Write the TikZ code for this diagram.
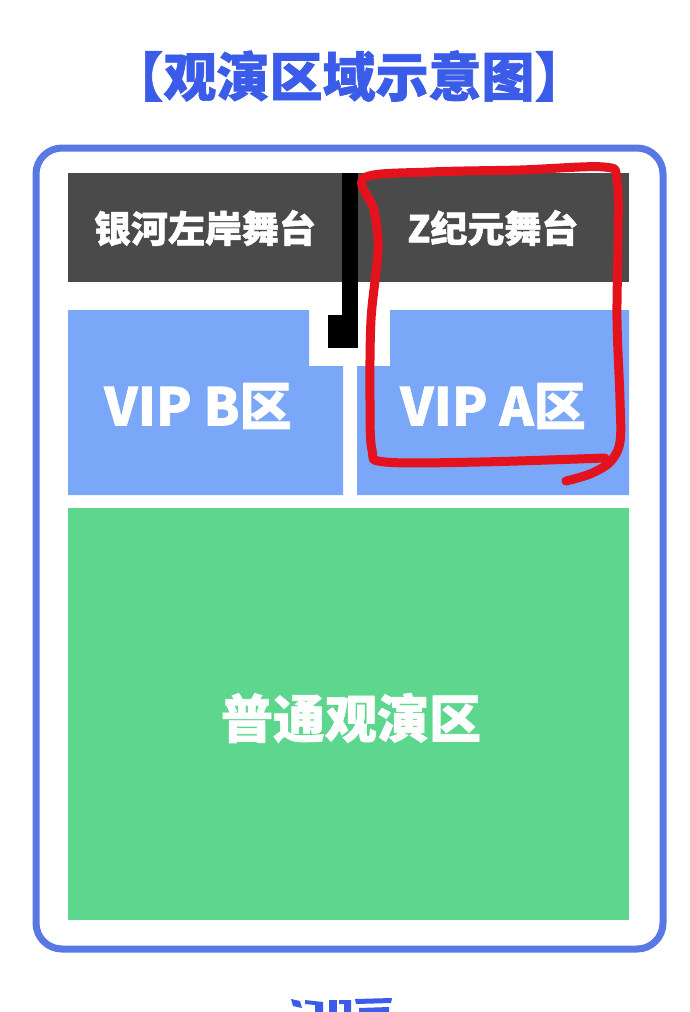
\documentclass[tikz,border=0pt]{standalone}
\usepackage{fontspec}
\usepackage{tikz}
\newfontfamily\cjk{Noto Sans CJK SC}[BoldFeatures={FakeBold=1.2}]
\usetikzlibrary{positioning}
\definecolor{frame-blue}{RGB}{88,120,230}
\definecolor{title-blue}{RGB}{58,92,232}
\definecolor{stage-gray}{RGB}{74,74,74}
\definecolor{vip-blue}{RGB}{122,167,247}
\definecolor{crowd-green}{RGB}{93,214,142}
\definecolor{mark-red}{RGB}{228,18,28}

\begin{document}
\begin{tikzpicture}[
    x=1pt, y=-1pt,
    title/.style={text=title-blue, font=\cjk\bfseries\fontsize{53}{53}\selectfont, inner sep=0pt},
    stagelabel/.style={text=white, font=\cjk\bfseries\fontsize{37}{37}\selectfont, inner sep=0pt},
    zonelabel/.style={text=white, font=\cjk\bfseries\fontsize{52}{52}\selectfont, inner sep=0pt},
    frame/.style={draw=frame-blue, line width=7pt, rounded corners=26pt},
    redmark/.style={draw=mark-red, line width=9pt, line cap=round, line join=round}
]
\useasboundingbox (0,0) rectangle (690,1012);
\fill[white] (0,0) rectangle (690,1012);

\node[title] (heading) at (349,76) {【观演区域示意图】};

\draw[frame] (36,148) rectangle (663,949);

% stages
\fill[stage-gray] (68,173) rectangle (629,282);
\node[stagelabel] (galaxy) at (205,228) {银河左岸舞台};
\node[stagelabel] (zera) at (493,228) {Z纪元舞台};

% vip zones
\fill[vip-blue] (68,310) -- (309,310) -- (309,366) -- (343,366) -- (343,495) -- (68,495) -- cycle;
\fill[vip-blue] (390,310) -- (629,310) -- (629,495) -- (357,495) -- (357,366) -- (390,366) -- cycle;
\node[zonelabel] (vipb) at (198,406) {VIP B区};
\node[zonelabel] (vipa) at (493,406) {VIP A区};

% divider
\fill[black] (342,173) rectangle (358,348);
\fill[black] (328,315) rectangle (358,348);

% general area
\fill[crowd-green] (68,508) rectangle (629,920);
\node[zonelabel] (general) at (351,718) {普通观演区};

% hand drawn ring
\draw[redmark] plot[smooth, tension=0.55] coordinates {
  (605,458) (480,462) (385,462) (372,450) (370,400) (371,320) (378,250)
  (374,210) (364,178) (430,172) (520,170) (604,167) (617,180) (618,240)
  (617,320) (620,400) (620,442) (610,462) (590,474) (566,481)};

% cut off text at the foot
\fill[title-blue] (291,999) -- (300,1001) -- (302,1008) -- (293,1006) -- cycle;
\fill[title-blue] (305,1000) -- (323,1002) -- (323,1012) -- (315,1012) -- (315,1005) -- (305,1004) -- cycle;
\fill[title-blue] (329,1000) rectangle (337,1012);
\fill[title-blue] (339,1000) -- (351,1000) -- (351,1012) -- (344,1012) -- (344,1004) -- (339,1004) -- cycle;
\fill[title-blue] (355,999) -- (392,998) -- (391,1003) -- (356,1004) -- cycle;
\fill[title-blue] (359,1008) -- (389,1007) -- (389,1012) -- (359,1012) -- cycle;
\end{tikzpicture}
\end{document}
